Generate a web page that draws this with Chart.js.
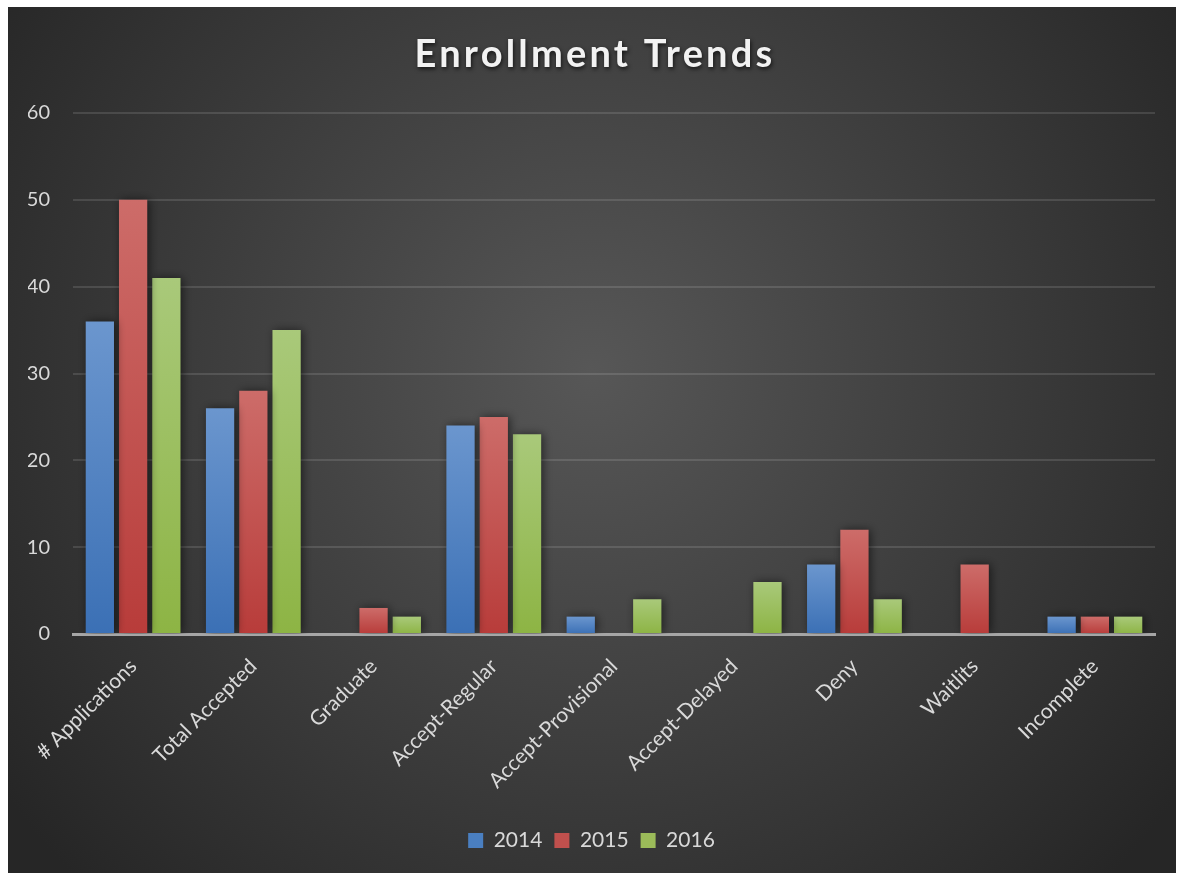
<!DOCTYPE html>
<html>
<head>
<meta charset="utf-8">
<script src="https://cdn.jsdelivr.net/npm/chart.js@4/dist/chart.umd.min.js"></script>
<style>
  html, body { margin: 0; padding: 0; background: #ffffff; }
  #wrap { position: absolute; left: 8px; top: 7px; width: 1168px; height: 866px; }
</style>
</head>
<body>
<div id="wrap"><canvas id="enrollChart"></canvas></div>
<script>
// chart data
const categories = ["# Applications", "Total Accepted", "Graduate", "Accept-Regular",
    "Accept-Provisional", "Accept-Delayed", "Deny", "Waitlits", "Incomplete"];
const years = ["2014", "2015", "2016"];
const values2014 = [36, 26, 0, 24, 2, 0, 8, 0, 2];
const values2015 = [50, 28, 3, 25, 0, 0, 12, 8, 2];
const values2016 = [41, 35, 2, 23, 4, 6, 4, 0, 2];
const yTicks = [0, 10, 20, 30, 40, 50, 60];

const chartTitle = "Enrollment Trends";
const fontFamily = "Lato, 'Open Sans', sans-serif";

// top / bottom colours for each series
const colorPairs = [
    ["#6b96ce", "#3b70b5"],
    ["#cd6c69", "#b83c3a"],
    ["#a9c97a", "#8db444"]
];
const legendColors = ["#4a7fc1", "#c0504d", "#9bbb59"];

// gradient per bar, light at the top
function barGradient(index) {
    return (context) => {
        const chart = context.chart;
        if (context.type !== "data" || !chart.chartArea) return legendColors[index];
        const yScale = chart.scales.y;
        const top = yScale.getPixelForValue(context.raw);
        const base = yScale.getPixelForValue(0);
        if (base - top < 1) return colorPairs[index][1];
        const g = chart.ctx.createLinearGradient(0, top, 0, base);
        g.addColorStop(0, colorPairs[index][0]);
        g.addColorStop(1, colorPairs[index][1]);
        return g;
    };
}

// dark radial background
const backgroundPlugin = {
    id: "darkBackground",
    beforeDraw(chart) {
        const ctx = chart.ctx;
        const w = chart.width, h = chart.height;
        const g = ctx.createRadialGradient(w * 0.5, h * 0.42, 0, w * 0.5, h * 0.42, w * 0.62);
        g.addColorStop(0, "#575757");
        g.addColorStop(1, "#262626");
        ctx.save();
        ctx.fillStyle = g;
        ctx.fillRect(0, 0, w, h);
        ctx.restore();
    }
};

// soft shadow behind bars
const shadowPlugin = {
    id: "barShadow",
    beforeDatasetsDraw(chart) {
        const ctx = chart.ctx;
        ctx.save();
        ctx.shadowColor = "rgba(0,0,0,0.55)";
        ctx.shadowBlur = 10;
        ctx.shadowOffsetX = 2;
        ctx.shadowOffsetY = 0;
    },
    afterDatasetsDraw(chart) {
        chart.ctx.restore();
    }
};

// spaced-out title with a shadow
const titlePlugin = {
    id: "spacedTitle",
    afterDraw(chart) {
        const ctx = chart.ctx;
        ctx.save();
        ctx.font = "bold 38px " + fontFamily;
        ctx.letterSpacing = "3.2px";
        ctx.fillStyle = "#f2f2f2";
        ctx.textAlign = "center";
        ctx.textBaseline = "middle";
        ctx.shadowColor = "rgba(0,0,0,0.7)";
        ctx.shadowBlur = 4;
        ctx.shadowOffsetX = 1;
        ctx.shadowOffsetY = 2;
        ctx.fillText(chartTitle, chart.width / 2 + 3, 48);
        ctx.restore();
    }
};

const seriesValues = [values2014, values2015, values2016];

const ctx = document.getElementById("enrollChart").getContext("2d");
new Chart(ctx, {
    type: "bar",
    data: {
        labels: categories,
        datasets: years.map((year, i) => ({
            label: year,
            data: seriesValues[i],
            backgroundColor: barGradient(i),
            borderWidth: 0,
            categoryPercentage: 0.83,
            barPercentage: 0.85
        }))
    },
    options: {
        responsive: true,
        maintainAspectRatio: false,
        animation: false,
        layout: { padding: { top: 106, right: 21, bottom: 12, left: 20 } },
        scales: {
            x: {
                grid: { display: false },
                border: { display: true, color: "#a6a6a6", width: 3 },
                ticks: {
                    color: "#d9d9d9",
                    font: { family: fontFamily, size: 21 },
                    minRotation: 45,
                    maxRotation: 45,
                    padding: 12
                },
                afterFit(scale) {
                    // let the first rotated label hang left of the plot
                    scale.paddingLeft = 0;
                    scale.height = 184;
                }
            },
            y: {
                min: 0,
                max: 60,
                afterBuildTicks(axis) {
                    axis.ticks = yTicks.map(v => ({ value: v }));
                },
                afterFit(scale) {
                    scale.width = 45;
                },
                grid: { color: "rgba(255,255,255,0.12)", lineWidth: 2, drawTicks: false },
                border: { display: false },
                ticks: {
                    color: "#d9d9d9",
                    font: { family: fontFamily, size: 20 },
                    padding: 23
                }
            }
        },
        plugins: {
            title: { display: false },
            tooltip: { enabled: false },
            legend: {
                position: "bottom",
                labels: {
                    color: "#d9d9d9",
                    font: { family: fontFamily, size: 21 },
                    boxWidth: 15,
                    boxHeight: 15,
                    padding: 12,
                    generateLabels(chart) {
                        return chart.data.datasets.map((ds, i) => ({
                            text: ds.label,
                            fillStyle: legendColors[i],
                            strokeStyle: legendColors[i],
                            lineWidth: 0,
                            fontColor: "#d9d9d9",
                            datasetIndex: i
                        }));
                    }
                }
            }
        }
    },
    plugins: [backgroundPlugin, shadowPlugin, titlePlugin]
});
</script>
</body>
</html>
